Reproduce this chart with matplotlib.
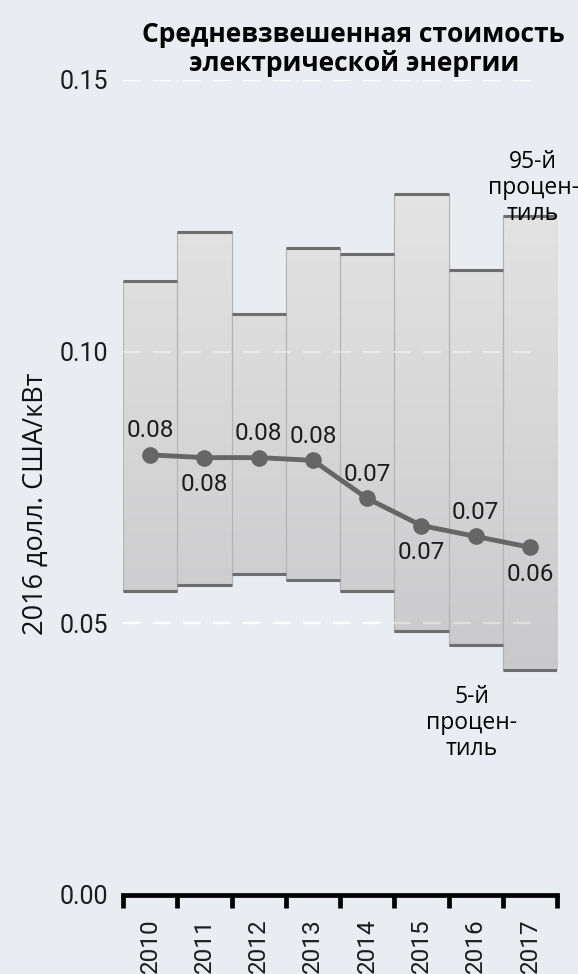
import matplotlib
matplotlib.use("Agg")
import matplotlib.pyplot as plt
import numpy as np

# Data
years = ["2010", "2011", "2012", "2013", "2014", "2015", "2016", "2017"]
p95 = [0.113, 0.122, 0.107, 0.119, 0.118, 0.129, 0.115, 0.125]
p5 = [0.056, 0.057, 0.059, 0.058, 0.056, 0.0485, 0.046, 0.0415]
avg = [0.081, 0.0805, 0.0805, 0.080, 0.073, 0.068, 0.066, 0.064]
label_above = [True, False, True, True, True, False, True, False]
yticks = [0.00, 0.05, 0.10, 0.15]

bg = "#e9ecf1"
num_font = "Roboto"
txt_font = "Open Sans"
num_col = "#1c1c1c"

fig = plt.figure(figsize=(5.78, 9.74), dpi=100, facecolor=bg)
ax = fig.add_axes([123 / 578, 79 / 974, 434 / 578, 815 / 974], facecolor=bg)

x = np.arange(len(years))
ax.set_xlim(-0.5, len(years) - 0.5)
ax.set_ylim(0, 0.15)

# dashed grid: white behind the bars, faint on top of them
for y in yticks[1:]:
    ax.hlines(y, -0.5, 7.13, colors="white", lw=1.6, linestyles=(0, (8, 5.5)), zorder=0.5)
    ax.hlines(y, -0.5, 7.13, colors="white", lw=1.6, linestyles=(0, (8, 5.5)),
              alpha=0.4, zorder=2.5)

# percentile bars with a soft vertical gradient
grad = np.linspace(0, 1, 256).reshape(-1, 1)
cmap = matplotlib.colors.LinearSegmentedColormap.from_list("g", ["#c9c9cb", "#e4e4e4"])
bars = ax.bar(x, np.array(p95) - np.array(p5), bottom=p5, width=1.0,
              color="#dcdcdc", edgecolor="#b3b3b3", linewidth=0.8, zorder=1)
for b in bars:
    im = ax.imshow(grad, extent=(-0.5, 7.5, 0.04, 0.13), origin="lower", cmap=cmap,
                   aspect="auto", zorder=1.5)
    im.set_clip_path(b)
    ax.vlines([b.get_x(), b.get_x() + 1], b.get_y(), b.get_y() + b.get_height(),
              colors="#b3b3b3", lw=0.8, zorder=1.6)
ax.hlines(p95, x - 0.5, x + 0.5, colors="#6e6e6e", lw=2.2, zorder=2)
ax.hlines(p5, x - 0.5, x + 0.5, colors="#6e6e6e", lw=2.2, zorder=2)

# weighted average line
ax.plot(x, avg, color="#666666", lw=3.5, marker="o", markersize=11, zorder=4)
for xi, v, up in zip(x, avg, label_above):
    ax.annotate(f"{v:.2f}", (xi, v), xytext=(0, 9 if up else -11), textcoords="offset points",
                ha="center", va="bottom" if up else "top", fontsize=17.5,
                family=num_font, color=num_col, zorder=5)

# axes styling
for s in ["top", "right", "left"]:
    ax.spines[s].set_visible(False)
ax.spines["bottom"].set_linewidth(3.4)
ax.spines["bottom"].set_color("black")
ax.set_xticks(np.arange(-0.5, len(years)), minor=False)
ax.set_xticklabels([])
ax.set_xticks(x, minor=True)
ax.set_xticklabels(years, minor=True, rotation=90, fontsize=17.5, family=num_font,
                   color=num_col)
ax.tick_params(axis="x", which="major", length=9, width=3.4, color="black", direction="out")
ax.tick_params(axis="x", which="minor", length=0, pad=17)
ax.set_yticks(yticks)
ax.set_yticklabels([f"{t:.2f}" for t in yticks], fontsize=18, family=num_font,
                   color=num_col)
ax.tick_params(axis="y", length=0, pad=11)

# texts
fig.text(0.612, 0.978, "Средневзвешенная стоимость\nэлектрической энергии", ha="center",
         va="top", fontsize=19, fontweight="bold", family=txt_font, linespacing=1.08)
fig.text(36 / 578, 0.483, "2016 долл. США/кВт", rotation=90, ha="center", va="center",
         fontsize=19.5, family=txt_font, color="#111111")
fig.text(533 / 578, (974 - 188) / 974, "95-й\nпроцен-\nтиль", ha="center", va="center",
         multialignment="center", fontsize=16.5, family=txt_font, linespacing=1.12)
fig.text(472 / 578, (974 - 723) / 974, "5-й\nпроцен-\nтиль", ha="center", va="center",
         multialignment="center", fontsize=16.5, family=txt_font, linespacing=1.12)

plt.savefig("out.png", dpi=100, facecolor=bg)
